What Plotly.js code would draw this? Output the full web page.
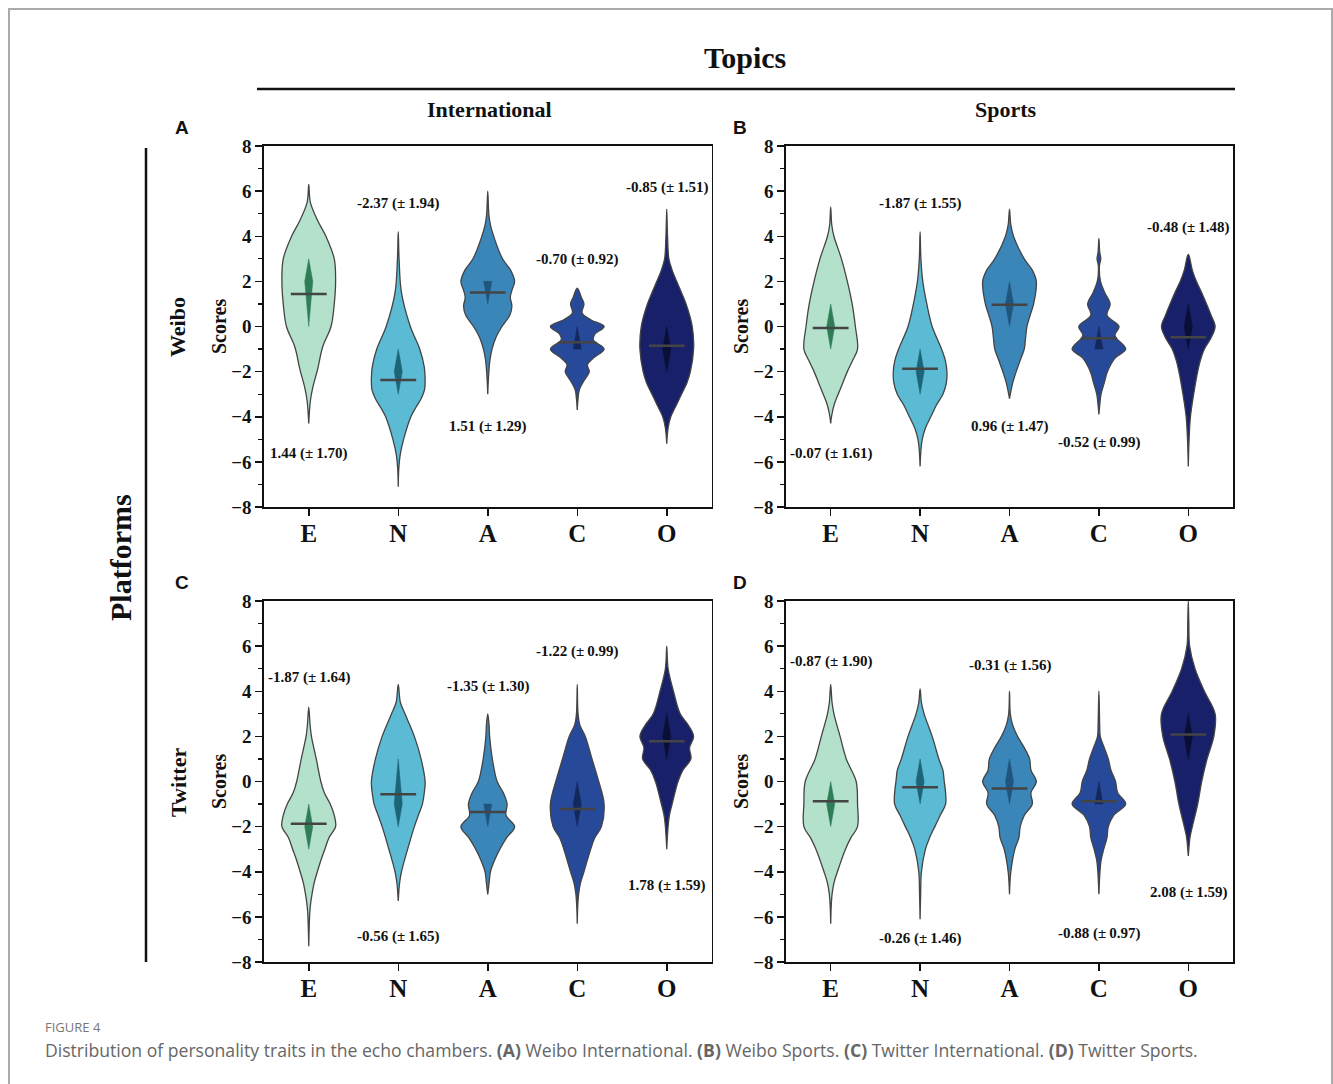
<!DOCTYPE html>
<html>
<head>
<meta charset="utf-8">
<script src="https://cdn.plot.ly/plotly-3.0.1.min.js"></script>
<style>html,body{margin:0;padding:0;background:#fff;}#chart{width:1333px;height:1084px;}</style>
</head>
<body>
<div id="chart"></div>
<script>
// ---------- DATA ----------
const categories = ['E', 'N', 'A', 'C', 'O'];

// means and SDs shown in each panel
const meanA = [1.44, -2.37, 1.51, -0.70, -0.85];
const sdA   = [1.70, 1.94, 1.29, 0.92, 1.51];
const meanB = [-0.07, -1.87, 0.96, -0.52, -0.48];
const sdB   = [1.61, 1.55, 1.47, 0.99, 1.48];
const meanC = [-1.87, -0.56, -1.35, -1.22, 1.78];
const sdC   = [1.64, 1.65, 1.30, 0.99, 1.59];
const meanD = [-0.87, -0.26, -0.31, -0.88, 2.08];
const sdD   = [1.90, 1.46, 1.56, 0.97, 1.59];

// inner quartile spindles (Q1, median, Q3)
const q1A = [0, -3, 1, -1, -2],  medA = [2, -2, 2, -1, -1], q3A = [3, -1, 2, 0, 0];
const q1B = [-1, -3, 0, -1, -1], medB = [0, -2, 1, -1, 0],  q3B = [1, -1, 2, 0, 1];
const q1C = [-3, -2, -2, -2, 1], medC = [-2, -1, -1, -1, 2], q3C = [-1, 1, -1, 0, 3];
const q1D = [-2, -1, -1, -1, 1], medD = [-1, 0, 0, -1, 2],  q3D = [0, 1, 1, 0, 3];

// density profiles: [score, relative density (0..1)]
const profilesA = [
  [[6.3,0],[5.5,0.06],[4.7,0.33],[4.0,0.64],[3.0,0.95],[2.0,1.0],[1.0,0.95],[0,0.83],[-0.9,0.52],[-1.9,0.33],[-2.7,0.15],[-3.3,0.06],[-4.3,0]],
  [[4.2,0],[3.0,0.03],[1.5,0.12],[0,0.45],[-1,0.8],[-1.8,0.97],[-2.3,1.0],[-2.8,0.98],[-3.2,0.85],[-3.6,0.65],[-4,0.47],[-5,0.2],[-5.7,0.07],[-6.3,0.02],[-7.1,0]],
  [[6.0,0],[5.0,0.04],[4.5,0.1],[4.0,0.22],[3.0,0.55],[2.5,0.85],[2.0,1.0],[1.6,0.9],[1.3,0.84],[0.9,0.9],[0.5,0.82],[0,0.53],[-0.5,0.3],[-1,0.16],[-1.5,0.08],[-2.2,0.03],[-3.0,0]],
  [[1.7,0],[1.3,0.15],[1.0,0.25],[0.6,0.18],[0.3,0.5],[0,1.0],[-0.35,0.65],[-0.6,0.6],[-1,1.0],[-1.4,0.6],[-1.7,0.38],[-2,0.45],[-2.4,0.25],[-2.8,0.08],[-3.2,0.03],[-3.7,0]],
  [[5.2,0],[4.0,0.03],[3.0,0.08],[2.5,0.2],[2,0.37],[1.5,0.55],[1,0.72],[0,0.95],[-1,1.0],[-2,0.88],[-2.5,0.75],[-3,0.55],[-3.5,0.35],[-4,0.15],[-4.5,0.05],[-5.2,0]]
];
const profilesB = [
  [[5.3,0],[4.5,0.04],[4,0.12],[3,0.4],[2,0.62],[1,0.8],[0,0.92],[-1,1.0],[-1.5,0.82],[-2,0.62],[-2.5,0.45],[-3,0.28],[-3.5,0.12],[-4,0.03],[-4.3,0]],
  [[4.2,0],[3,0.03],[2,0.1],[1,0.25],[0,0.45],[-1,0.8],[-1.5,0.94],[-2,1.0],[-2.5,0.98],[-3,0.85],[-3.5,0.6],[-4,0.4],[-4.5,0.2],[-5,0.08],[-5.5,0.03],[-6.2,0]],
  [[5.2,0],[4.5,0.05],[4,0.15],[3,0.55],[2.5,0.85],[2,1.0],[1,0.9],[0.5,0.77],[0,0.65],[-0.5,0.6],[-1,0.55],[-1.5,0.4],[-2,0.25],[-2.5,0.12],[-3,0.03],[-3.2,0]],
  [[3.9,0],[3.3,0.03],[3,0.07],[2.7,0.02],[2,0.06],[1.5,0.22],[1,0.42],[0.5,0.3],[0,0.75],[-0.4,0.6],[-1,1.0],[-1.4,0.6],[-2,0.32],[-2.5,0.2],[-3,0.08],[-3.5,0.03],[-3.9,0]],
  [[3.2,0],[2.5,0.15],[2,0.3],[1.5,0.5],[1,0.68],[0.5,0.85],[0,1.0],[-0.5,0.85],[-1,0.6],[-1.5,0.45],[-2,0.35],[-3,0.2],[-4,0.08],[-5,0.03],[-6.2,0]]
];
const profilesC = [
  [[3.3,0],[2.5,0.05],[2,0.1],[1,0.28],[0,0.45],[-0.5,0.58],[-1,0.8],[-1.5,0.95],[-2,1.0],[-2.5,0.75],[-3,0.6],[-3.5,0.45],[-4,0.32],[-4.5,0.2],[-5,0.12],[-5.5,0.06],[-6,0.03],[-7.3,0]],
  [[4.3,0],[3.5,0.08],[3,0.25],[2,0.6],[1,0.85],[0,1.0],[-0.5,0.97],[-1,0.9],[-1.5,0.75],[-2,0.6],[-3,0.35],[-4,0.12],[-4.5,0.05],[-5.3,0]],
  [[3,0],[2.5,0.05],[2,0.07],[1,0.17],[0,0.35],[-0.5,0.58],[-1,0.72],[-1.5,0.68],[-2,1.0],[-2.5,0.7],[-3,0.45],[-3.5,0.25],[-4,0.1],[-4.5,0.05],[-5,0]],
  [[4.3,0],[3,0.03],[2.5,0.1],[2,0.3],[1,0.55],[0,0.8],[-1,1.0],[-2,0.9],[-2.5,0.65],[-3,0.5],[-4,0.25],[-4.5,0.12],[-5,0.05],[-5.5,0.02],[-6.3,0]],
  [[6,0],[5,0.05],[4,0.25],[3,0.5],[2.5,0.8],[2,1.0],[1.5,0.85],[1,0.9],[0.5,0.6],[0,0.42],[-1,0.2],[-1.5,0.1],[-2,0.05],[-3,0]]
];
const profilesD = [
  [[4.3,0],[3.5,0.05],[3,0.12],[2,0.35],[1,0.58],[0,0.95],[-1,1.0],[-2,1.0],[-2.5,0.75],[-3,0.55],[-4,0.25],[-4.5,0.12],[-5,0.05],[-5.5,0.02],[-6.3,0]],
  [[4.1,0],[3.5,0.05],[3,0.15],[2,0.45],[1,0.7],[0.5,0.85],[0,0.9],[-0.5,0.95],[-1,0.95],[-1.5,0.75],[-2,0.55],[-2.5,0.35],[-3,0.2],[-4,0.05],[-5,0.02],[-6.1,0]],
  [[4,0],[3,0.03],[2.5,0.12],[2,0.3],[1.5,0.55],[1,0.75],[0.5,0.8],[0,1.0],[-0.5,0.8],[-1,0.85],[-1.5,0.55],[-2,0.4],[-2.5,0.35],[-3,0.2],[-4,0.05],[-5,0]],
  [[4,0],[2.5,0.03],[2,0.05],[1.5,0.2],[1,0.35],[0.5,0.45],[0,0.62],[-0.5,0.7],[-1,1.0],[-1.5,0.55],[-2,0.35],[-2.5,0.3],[-3,0.18],[-3.5,0.08],[-4,0.04],[-5,0]],
  [[8,0],[7,0.02],[6,0.05],[5,0.25],[4,0.6],[3,1.0],[2,0.95],[1,0.7],[0,0.5],[-1,0.35],[-2,0.15],[-2.5,0.06],[-3,0.02],[-3.3,0]]
];

// ---------- LAYOUT / STYLE ----------
const labelYA = [-5.61, 5.43, -4.41, 2.99, 6.18];
const labelYB = [-5.61, 5.43, -4.41, -5.16, 4.37];
const labelYC = [4.63, -6.89, 4.23, 5.78, -4.59];
const labelYD = [5.3, -6.94, 5.12, -6.72, -4.9];

const fillColors  = ['#b3e1cc', '#5bbad4', '#3a86b9', '#27499a', '#172068'];
const innerColors = ['#2e7d57', '#1d6478', '#1f557f', '#13295e', '#0a0f36'];
const HALF = 0.30, INNER = 0.045, MEANHALF = 0.2;
const W = 1333, H = 1084;
const px = v => v / W, py = v => 1 - v / H;
const serif = 'Liberation Serif, Times New Roman, serif';

const panels = [
  {xa:'x',  ya:'y',  prof:profilesA, mean:meanA, sd:sdA, q1:q1A, med:medA, q3:q3A, lab:labelYA},
  {xa:'x2', ya:'y2', prof:profilesB, mean:meanB, sd:sdB, q1:q1B, med:medB, q3:q3B, lab:labelYB},
  {xa:'x3', ya:'y3', prof:profilesC, mean:meanC, sd:sdC, q1:q1C, med:medC, q3:q3C, lab:labelYC},
  {xa:'x4', ya:'y4', prof:profilesD, mean:meanD, sd:sdD, q1:q1D, med:medD, q3:q3D, lab:labelYD}
];

const traces = [];
const annotations = [];
panels.forEach(p => {
  p.prof.forEach((prof, i) => {
    const xs = [], ys = [];
    prof.forEach(([y, w]) => { xs.push(i + w * HALF); ys.push(y); });
    for (let k = prof.length - 1; k >= 0; k--) { xs.push(i - prof[k][1] * HALF); ys.push(prof[k][0]); }
    traces.push({type:'scatter', mode:'lines', x:xs, y:ys, xaxis:p.xa, yaxis:p.ya,
      fill:'toself', fillcolor:fillColors[i], line:{color:'#444', width:1.3, shape:'spline', smoothing:1},
      hoverinfo:'skip', showlegend:false});
    // inner spindle
    traces.push({type:'scatter', mode:'lines', xaxis:p.xa, yaxis:p.ya,
      x:[i, i + INNER, i, i - INNER, i], y:[p.q3[i], p.med[i], p.q1[i], p.med[i], p.q3[i]],
      fill:'toself', fillcolor:innerColors[i], line:{color:innerColors[i], width:0.5},
      hoverinfo:'skip', showlegend:false});
    // mean line
    traces.push({type:'scatter', mode:'lines', xaxis:p.xa, yaxis:p.ya,
      x:[i - MEANHALF, i + MEANHALF], y:[p.mean[i], p.mean[i]],
      line:{color:'#444', width:2.5}, hoverinfo:'skip', showlegend:false});
    annotations.push({xref:p.xa, yref:p.ya, x:i, y:p.lab[i], showarrow:false,
      text:`${p.mean[i].toFixed(2)} (±\u2009${p.sd[i].toFixed(2)})`,
      font:{family:serif, size:15, color:'#111', weight:'bold'}});
  });
});

function yax(domain, anchor) {
  return {domain, anchor, range:[-8, 8], tickvals:[-8,-6,-4,-2,0,2,4,6,8], ticks:'outside', ticklen:7, tickwidth:1.5,
    minor:{tickvals:[-7,-5,-3,-1,1,3,5,7], ticks:'outside', ticklen:4, tickwidth:1.2, tickcolor:'#111'},
    showline:true, linecolor:'#111', linewidth:1.6, mirror:true, showgrid:false, zeroline:false,
    tickfont:{family:serif, size:19, color:'#111', weight:'bold'}, tickcolor:'#111', fixedrange:true};
}
function xax(domain, anchor) {
  return {domain, anchor, range:[-0.5, 4.5], tickvals:[0,1,2,3,4], ticktext:categories, ticks:'outside', ticklen:7, tickwidth:1.5,
    ticklabelstandoff:-4,
    showline:true, linecolor:'#111', linewidth:1.6, mirror:true, showgrid:false, zeroline:false,
    tickfont:{family:serif, size:25, color:'#111', weight:'bold'}, tickcolor:'#111', fixedrange:true};
}
const xL = [px(264), px(711.5)], xR = [px(786), px(1233)];
const yT = [py(507), py(146)], yB = [py(962), py(601)];

function ann(x, y, text, size, opts) {
  return Object.assign({xref:'paper', yref:'paper', x:px(x), y:py(y), text, showarrow:false,
    xanchor:'center', yanchor:'middle', font:{family:serif, size, color:'#111', weight:'bold'}}, opts || {});
}
annotations.push(ann(745, 57, 'Topics', 30));
annotations.push(ann(489, 110, 'International', 22));
annotations.push(ann(1006, 110, 'Sports', 22));
annotations.push(ann(120, 557, 'Platforms', 30, {textangle:-90}));
annotations.push(ann(178, 327, 'Weibo', 22, {textangle:-90}));
annotations.push(ann(178, 782, 'Twitter', 22, {textangle:-90}));
annotations.push(ann(219, 327, 'Scores', 20, {textangle:-90}));
annotations.push(ann(741, 327, 'Scores', 20, {textangle:-90}));
annotations.push(ann(219, 782, 'Scores', 20, {textangle:-90}));
annotations.push(ann(741, 782, 'Scores', 20, {textangle:-90}));
const sans = 'Liberation Sans, Arial, sans-serif';
[['A',182,128],['B',740,128],['C',182,582],['D',740,582]].forEach(([t,x,y]) =>
  annotations.push(ann(x, y, t, 19, {font:{family:sans, size:19, color:'#111', weight:'bold'}})));
annotations.push({xref:'paper', yref:'paper', x:px(43), y:py(1027), xanchor:'left', yanchor:'middle', showarrow:false,
  text:'FIGURE 4', font:{family:'Open Sans, sans-serif', size:13, color:'#777'}});
annotations.push({xref:'paper', yref:'paper', x:px(43), y:py(1050), xanchor:'left', yanchor:'middle', showarrow:false,
  text:'Distribution of personality traits in the echo chambers. <b>(A)</b> Weibo International. <b>(B)</b> Weibo Sports. <b>(C)</b> Twitter International. <b>(D)</b> Twitter Sports.',
  font:{family:'Open Sans, sans-serif', size:17.6, color:'#666'}});

const layout = {
  width:W, height:H, margin:{l:0, r:0, t:0, b:0}, paper_bgcolor:'#fff', plot_bgcolor:'#fff', showlegend:false,
  xaxis:xax(xL,'y'), yaxis:yax(yT,'x'),
  xaxis2:xax(xR,'y2'), yaxis2:yax(yT,'x2'),
  xaxis3:xax(xL,'y3'), yaxis3:yax(yB,'x3'),
  xaxis4:xax(xR,'y4'), yaxis4:yax(yB,'x4'),
  annotations,
  shapes:[
    {type:'line', xref:'paper', yref:'paper', x0:px(257), x1:px(1235), y0:py(89), y1:py(89), line:{color:'#111', width:2.5}},
    {type:'line', xref:'paper', yref:'paper', x0:px(146), x1:px(146), y0:py(148), y1:py(962), line:{color:'#111', width:2.5}},
    {type:'rect', xref:'paper', yref:'paper', x0:px(9), x1:px(1332), y0:py(1095), y1:py(9), line:{color:'#aaa', width:2}}
  ]
};
Plotly.newPlot('chart', traces, layout, {displayModeBar:false, staticPlot:true});
</script>
</body>
</html>
